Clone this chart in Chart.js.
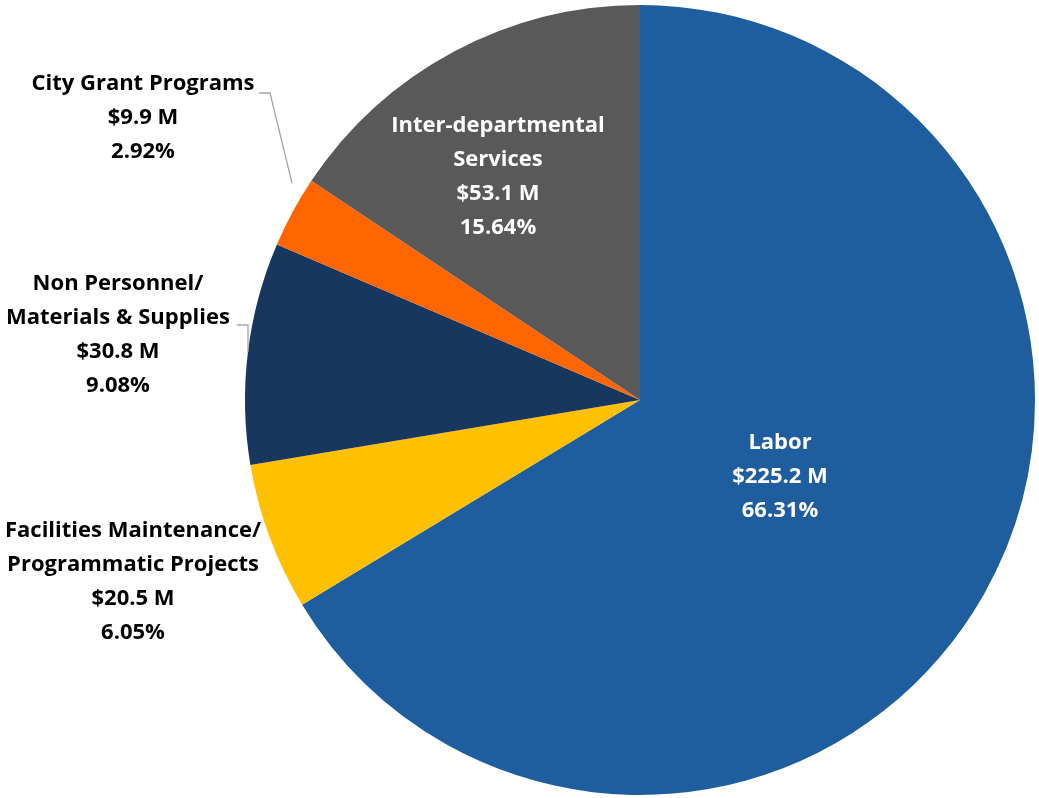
<!DOCTYPE html>
<html>
<head>
<meta charset="utf-8">
<script src="https://cdn.jsdelivr.net/npm/chart.js@4/dist/chart.umd.min.js"></script>
<style>
  html, body { margin: 0; padding: 0; background: #fff; }
  #wrap { width: 1039px; height: 798px; position: relative; }
</style>
</head>
<body>
<div id="wrap"><canvas id="budgetChart"></canvas></div>
<script>
var categories = ['Labor', 'Facilities Maintenance/\nProgrammatic Projects', 'Non Personnel/\nMaterials & Supplies', 'City Grant Programs', 'Inter-departmental\nServices'];
var amounts = [225.2, 20.5, 30.8, 9.9, 53.1];
var percents = ['66.31%', '6.05%', '9.08%', '2.92%', '15.64%'];
var colors = ['#1F5E9E', '#FFC000', '#17375E', '#FF6600', '#595959'];

// label anchor (first line centre) for each slice
var labelSpots = [
    { x: 780, y: 443, color: '#fff' },
    { x: 133, y: 531, color: '#000' },
    { x: 118, y: 284, color: '#000', leader: [[237, 325], [248, 325], [248, 352]] },
    { x: 143, y: 84, color: '#000', leader: [[259, 93], [270, 93], [292, 183]] },
    { x: 498, y: 126, color: '#fff' }
];

var labelPlugin = {
    id: 'sliceLabels',
    afterDraw: function(chart) {
        var ctx = chart.ctx;
        ctx.save();
        ctx.font = 'bold 22px "Open Sans", "Liberation Sans", sans-serif';
        ctx.textAlign = 'center';
        ctx.textBaseline = 'middle';
        var lineH = 34;
        categories.forEach(function(cat, i) {
            var spot = labelSpots[i];
            var lines = cat.split('\n');
            lines.push('$' + amounts[i].toFixed(1) + ' M');
            lines.push(percents[i]);
            if (spot.leader) {
                ctx.strokeStyle = '#A6A6A6';
                ctx.lineWidth = 1.3;
                ctx.beginPath();
                spot.leader.forEach(function(p, k) {
                    if (k === 0) ctx.moveTo(p[0], p[1]); else ctx.lineTo(p[0], p[1]);
                });
                ctx.stroke();
            }
            ctx.fillStyle = spot.color;
            lines.forEach(function(t, k) {
                ctx.fillText(t, spot.x, spot.y + k * lineH);
            });
        });
        ctx.restore();
    }
};

var ctx = document.getElementById('budgetChart').getContext('2d');
var budgetChart = new Chart(ctx, {
    type: 'pie',
    data: {
        labels: categories,
        datasets: [{
            data: amounts,
            backgroundColor: colors,
            borderWidth: 0
        }]
    },
    options: {
        responsive: true,
        maintainAspectRatio: false,
        animation: false,
        layout: { padding: { left: 245, right: 4, top: 5, bottom: 3 } },
        plugins: {
            legend: { display: false },
            tooltip: { enabled: false }
        }
    },
    plugins: [labelPlugin]
});
</script>
</body>
</html>
